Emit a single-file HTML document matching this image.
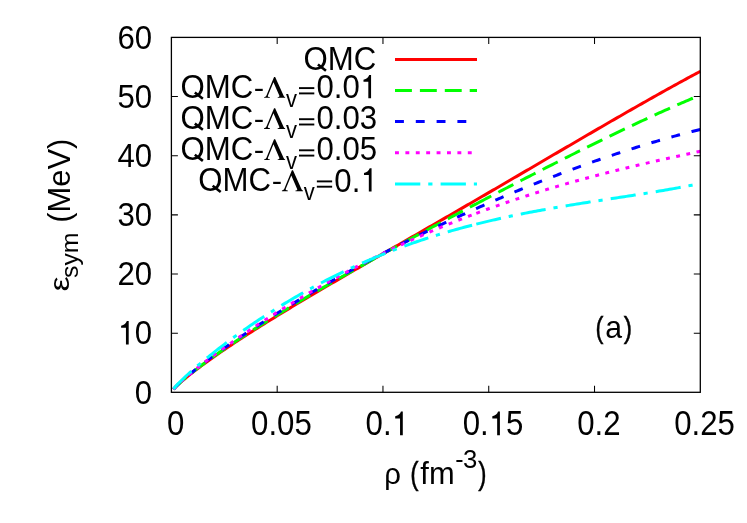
<!DOCTYPE html>
<html><head><meta charset="utf-8"><title>chart</title>
<style>html,body{margin:0;padding:0;background:#fff;}svg{display:block;opacity:0.999;will-change:transform;}</style>
</head><body>
<svg width="747" height="523" viewBox="0 0 747 523">
<rect width="747" height="523" fill="#fff"/>
<g fill="none" stroke-width="3.00" stroke-linejoin="round">
<path d="M173.52 389.22 L175.63 386.98 L177.75 384.93 L179.86 383.00 L181.98 381.14 L184.09 379.34 L186.21 377.58 L188.32 375.86 L190.44 374.17 L192.56 372.52 L194.67 370.88 L196.79 369.27 L198.90 367.68 L201.02 366.10 L203.13 364.54 L205.25 363.00 L207.37 361.47 L209.48 359.96 L211.60 358.46 L213.71 356.97 L215.83 355.49 L217.94 354.02 L220.06 352.56 L222.17 351.11 L224.29 349.67 L226.41 348.24 L228.52 346.82 L230.64 345.41 L232.75 344.00 L234.87 342.60 L236.98 341.21 L239.10 339.82 L241.21 338.44 L243.33 337.07 L245.45 335.71 L247.56 334.35 L249.68 332.99 L251.79 331.64 L253.91 330.30 L256.02 328.96 L258.14 327.62 L260.26 326.30 L262.37 324.97 L264.49 323.65 L266.60 322.33 L268.72 321.02 L270.83 319.72 L272.95 318.41 L275.06 317.11 L277.18 315.82 L279.30 314.52 L281.41 313.23 L283.53 311.95 L285.64 310.66 L287.76 309.39 L289.87 308.11 L291.99 306.83 L294.10 305.56 L296.22 304.29 L298.34 303.03 L300.45 301.77 L302.57 300.50 L304.68 299.25 L306.80 297.99 L308.91 296.74 L311.03 295.48 L313.15 294.23 L315.26 292.99 L317.38 291.74 L319.49 290.49 L321.61 289.25 L323.72 288.01 L325.84 286.77 L327.95 285.53 L330.07 284.30 L332.19 283.06 L334.30 281.83 L336.42 280.60 L338.53 279.36 L340.65 278.13 L342.76 276.90 L344.88 275.68 L346.99 274.45 L349.11 273.22 L351.23 272.00 L353.34 270.77 L355.46 269.55 L357.57 268.33 L359.69 267.10 L361.80 265.88 L363.92 264.66 L366.04 263.44 L368.15 262.22 L370.27 261.00 L372.38 259.78 L374.50 258.57 L376.61 257.35 L378.73 256.13 L380.84 254.91 L382.96 253.69 L385.08 252.48 L387.19 251.26 L389.31 250.04 L391.42 248.83 L393.54 247.61 L395.65 246.39 L397.77 245.18 L399.88 243.96 L402.00 242.74 L404.12 241.53 L406.23 240.31 L408.35 239.09 L410.46 237.88 L412.58 236.66 L414.69 235.44 L416.81 234.23 L418.93 233.01 L421.04 231.79 L423.16 230.57 L425.27 229.35 L427.39 228.14 L429.50 226.92 L431.62 225.70 L433.73 224.48 L435.85 223.26 L437.97 222.04 L440.08 220.82 L442.20 219.60 L444.31 218.38 L446.43 217.15 L448.54 215.93 L450.66 214.71 L452.77 213.49 L454.89 212.26 L457.01 211.04 L459.12 209.81 L461.24 208.59 L463.35 207.36 L465.47 206.14 L467.58 204.91 L469.70 203.69 L471.82 202.46 L473.93 201.23 L476.05 200.00 L478.16 198.78 L480.28 197.55 L482.39 196.32 L484.51 195.09 L486.62 193.86 L488.74 192.63 L490.86 191.40 L492.97 190.17 L495.09 188.93 L497.20 187.70 L499.32 186.47 L501.43 185.24 L503.55 184.00 L505.66 182.77 L507.78 181.54 L509.90 180.30 L512.01 179.07 L514.13 177.83 L516.24 176.60 L518.36 175.36 L520.47 174.12 L522.59 172.89 L524.71 171.65 L526.82 170.41 L528.94 169.18 L531.05 167.94 L533.17 166.70 L535.28 165.47 L537.40 164.23 L539.51 162.99 L541.63 161.75 L543.75 160.52 L545.86 159.28 L547.98 158.04 L550.09 156.80 L552.21 155.57 L554.32 154.33 L556.44 153.09 L558.55 151.85 L560.67 150.62 L562.79 149.38 L564.90 148.14 L567.02 146.91 L569.13 145.67 L571.25 144.43 L573.36 143.20 L575.48 141.96 L577.60 140.73 L579.71 139.49 L581.83 138.26 L583.94 137.03 L586.06 135.80 L588.17 134.56 L590.29 133.33 L592.40 132.10 L594.52 130.87 L596.64 129.64 L598.75 128.41 L600.87 127.18 L602.98 125.96 L605.10 124.73 L607.21 123.51 L609.33 122.28 L611.44 121.06 L613.56 119.84 L615.68 118.62 L617.79 117.40 L619.91 116.18 L622.02 114.96 L624.14 113.75 L626.25 112.53 L628.37 111.32 L630.49 110.11 L632.60 108.90 L634.72 107.69 L636.83 106.49 L638.95 105.28 L641.06 104.08 L643.18 102.88 L645.29 101.68 L647.41 100.48 L649.53 99.28 L651.64 98.09 L653.76 96.90 L655.87 95.71 L657.99 94.52 L660.10 93.34 L662.22 92.16 L664.33 90.98 L666.45 89.80 L668.57 88.62 L670.68 87.45 L672.80 86.28 L674.91 85.11 L677.03 83.95 L679.14 82.79 L681.26 81.63 L683.38 80.48 L685.49 79.32 L687.61 78.17 L689.72 77.03 L691.84 75.88 L693.95 74.74 L696.07 73.61 L698.18 72.48 L700.30 71.35" stroke="#ff0000"/>
<path d="M173.52 389.19 L175.55 387.01 L177.58 385.01 L179.61 383.12 L181.64 381.30 L183.68 379.53 L185.71 377.81 L187.74 376.12 L189.77 374.47 L191.80 372.84 L193.84 371.24 L195.87 369.66 L197.90 368.09 L199.93 366.55 L201.97 365.02 L204.00 363.50 L206.03 362.00 L208.06 360.52 L210.09 359.04 L212.13 357.58 L214.16 356.13 L216.19 354.69 L218.22 353.26 L220.25 351.84 L222.29 350.43 L224.32 349.03 L226.35 347.63 L228.38 346.25 L230.41 344.87 L232.45 343.50 L234.48 342.14 L236.51 340.78 L238.54 339.43 L240.58 338.09 L242.61 336.76 L244.64 335.43 L246.67 334.10 L248.70 332.79 L250.74 331.48 L252.77 330.17 L254.80 328.87 L256.83 327.57 L258.86 326.28 L260.90 325.00 L262.93 323.72 L264.96 322.45 L266.99 321.17 L269.02 319.91 L271.06 318.65 L273.09 317.39 L275.12 316.14 L277.15 314.89 L279.19 313.64 L281.22 312.40 L283.25 311.17 L285.28 309.93 L287.31 308.70 L289.35 307.48 L291.38 306.26 L293.41 305.04 L295.44 303.82 L297.47 302.61 L299.51 301.40 L301.54 300.20 L303.57 298.99 L305.60 297.80 L307.63 296.60 L309.67 295.41 L311.70 294.21 L313.73 293.03 L315.76 291.84 L317.80 290.66 L319.83 289.48 L321.86 288.30 L323.89 287.13 L325.92 285.96 L327.96 284.79 L329.99 283.62 L332.02 282.46 L334.05 281.29 L336.08 280.13 L338.12 278.98 L340.15 277.82 L342.18 276.67 L344.21 275.51 L346.24 274.37 L348.28 273.22 L350.31 272.07 L352.34 270.93 L354.37 269.79 L356.41 268.65 L358.44 267.51 L360.47 266.37 L362.50 265.24 L364.53 264.11 L366.57 262.97 L368.60 261.84 L370.63 260.72 L372.66 259.59 L374.69 258.47 L376.73 257.34 L378.76 256.22 L380.79 255.10 L382.82 253.98 L384.86 252.87 L386.89 251.75 L388.92 250.64 L390.95 249.52 L392.98 248.41 L395.02 247.30 L397.05 246.19 L399.08 245.08 L401.11 243.98 L403.14 242.87 L405.18 241.77 L407.21 240.67 L409.24 239.57 L411.27 238.46 L413.30 237.37 L415.34 236.27 L417.37 235.17 L419.40 234.07 L421.43 232.98 L423.47 231.89 L425.50 230.79 L427.53 229.70 L429.56 228.61 L431.59 227.52 L433.63 226.43 L435.66 225.35 L437.69 224.26 L439.72 223.18 L441.75 222.09 L443.79 221.01 L445.82 219.93 L447.85 218.84 L449.88 217.76 L451.91 216.68 L453.95 215.61 L455.98 214.53 L458.01 213.45 L460.04 212.38 L462.08 211.30 L464.11 210.23 L466.14 209.16 L468.17 208.08 L470.20 207.01 L472.24 205.94 L474.27 204.87 L476.30 203.81 M476.30 203.81 L478.36 202.73 L480.41 201.65 L482.47 200.57 L484.52 199.49 L486.58 198.42 L488.63 197.34 L490.69 196.27 L492.74 195.20 L494.80 194.13 L496.85 193.06 L498.91 191.99 L500.96 190.92 L503.02 189.85 L505.07 188.79 L507.13 187.72 L509.18 186.66 L511.24 185.59 L513.29 184.53 L515.35 183.47 L517.40 182.41 L519.46 181.35 L521.51 180.29 L523.57 179.24 L525.62 178.18 L527.68 177.12 L529.73 176.07 L531.79 175.02 L533.84 173.97 L535.90 172.92 L537.95 171.87 L540.01 170.82 L542.06 169.78 L544.12 168.73 L546.17 167.69 L548.23 166.65 L550.28 165.60 L552.34 164.56 L554.39 163.53 L556.45 162.49 L558.50 161.45 L560.56 160.42 L562.61 159.39 L564.67 158.36 L566.72 157.33 L568.78 156.30 L570.83 155.27 L572.89 154.25 L574.94 153.22 L577.00 152.20 L579.05 151.18 L581.11 150.16 L583.16 149.14 L585.22 148.13 L587.27 147.12 L589.33 146.10 L591.38 145.09 L593.44 144.08 L595.49 143.08 L597.55 142.07 L599.60 141.07 L601.66 140.07 L603.71 139.07 L605.77 138.08 L607.82 137.08 L609.88 136.09 L611.93 135.10 L613.99 134.11 L616.04 133.12 L618.10 132.14 L620.15 131.16 L622.21 130.18 L624.26 129.20 L626.32 128.23 L628.37 127.25 L630.43 126.28 L632.48 125.31 L634.54 124.35 L636.59 123.39 L638.65 122.43 L640.70 121.47 L642.76 120.51 L644.81 119.56 L646.87 118.61 L648.92 117.67 L650.98 116.72 L653.03 115.78 L655.09 114.84 L657.14 113.91 L659.20 112.98 L661.25 112.05 L663.31 111.12 L665.36 110.20 L667.42 109.28 L669.47 108.36 L671.53 107.45 L673.58 106.54 L675.64 105.63 L677.69 104.73 L679.75 103.83 L681.80 102.93 L683.86 102.04 L685.91 101.15 L687.97 100.26 L690.02 99.38 L692.08 98.50 L694.13 97.63 L696.19 96.76 L698.24 95.89 L700.30 95.03" stroke="#00ff00" stroke-dasharray="16.9 8.0"/>
<path d="M173.52 389.16 L175.55 386.94 L177.58 384.90 L179.61 382.97 L181.64 381.11 L183.68 379.31 L185.71 377.55 L187.74 375.83 L189.77 374.13 L191.80 372.47 L193.84 370.83 L195.87 369.21 L197.90 367.60 L199.93 366.02 L201.97 364.46 L204.00 362.90 L206.03 361.37 L208.06 359.84 L210.09 358.33 L212.13 356.83 L214.16 355.35 L216.19 353.87 L218.22 352.40 L220.25 350.95 L222.29 349.50 L224.32 348.06 L226.35 346.64 L228.38 345.22 L230.41 343.81 L232.45 342.40 L234.48 341.01 L236.51 339.62 L238.54 338.24 L240.58 336.87 L242.61 335.50 L244.64 334.14 L246.67 332.79 L248.70 331.45 L250.74 330.11 L252.77 328.78 L254.80 327.45 L256.83 326.13 L258.86 324.82 L260.90 323.51 L262.93 322.21 L264.96 320.91 L266.99 319.62 L269.02 318.34 L271.06 317.06 L273.09 315.78 L275.12 314.51 L277.15 313.25 L279.19 311.99 L281.22 310.74 L283.25 309.49 L285.28 308.25 L287.31 307.01 L289.35 305.77 L291.38 304.55 L293.41 303.32 L295.44 302.10 L297.47 300.89 L299.51 299.68 L301.54 298.47 L303.57 297.27 L305.60 296.07 L307.63 294.88 L309.67 293.69 L311.70 292.50 L313.73 291.32 L315.76 290.15 L317.80 288.98 L319.83 287.81 L321.86 286.65 L323.89 285.49 L325.92 284.33 L327.96 283.18 L329.99 282.03 L332.02 280.89 L334.05 279.75 L336.08 278.61 L338.12 277.48 L340.15 276.35 L342.18 275.23 L344.21 274.11 L346.24 272.99 L348.28 271.88 L350.31 270.77 L352.34 269.66 L354.37 268.56 L356.41 267.46 L358.44 266.37 L360.47 265.28 L362.50 264.19 L364.53 263.11 L366.57 262.02 L368.60 260.95 L370.63 259.87 L372.66 258.80 L374.69 257.74 L376.73 256.67 L378.76 255.61 L380.79 254.56 L382.82 253.50 L384.86 252.45 L386.89 251.41 L388.92 250.36 L390.95 249.32 L392.98 248.29 L395.02 247.25 L397.05 246.22 L399.08 245.20 L401.11 244.17 L403.14 243.15 L405.18 242.14 L407.21 241.12 L409.24 240.11 L411.27 239.11 L413.30 238.10 L415.34 237.10 L417.37 236.10 L419.40 235.11 L421.43 234.12 L423.47 233.13 L425.50 232.14 L427.53 231.16 L429.56 230.18 L431.59 229.21 L433.63 228.24 L435.66 227.27 L437.69 226.30 L439.72 225.34 L441.75 224.38 L443.79 223.42 L445.82 222.47 L447.85 221.52 L449.88 220.57 L451.91 219.63 L453.95 218.68 L455.98 217.75 L458.01 216.81 L460.04 215.88 L462.08 214.95 L464.11 214.03 L466.14 213.10 L468.17 212.18 L470.20 211.27 L472.24 210.35 L474.27 209.44 L476.30 208.54 M476.30 208.54 L478.36 207.62 L480.41 206.71 L482.47 205.80 L484.52 204.90 L486.58 204.00 L488.63 203.10 L490.69 202.20 L492.74 201.31 L494.80 200.42 L496.85 199.54 L498.91 198.66 L500.96 197.78 L503.02 196.90 L505.07 196.03 L507.13 195.16 L509.18 194.29 L511.24 193.43 L513.29 192.57 L515.35 191.71 L517.40 190.86 L519.46 190.01 L521.51 189.16 L523.57 188.32 L525.62 187.48 L527.68 186.64 L529.73 185.81 L531.79 184.98 L533.84 184.15 L535.90 183.33 L537.95 182.51 L540.01 181.69 L542.06 180.88 L544.12 180.07 L546.17 179.26 L548.23 178.46 L550.28 177.66 L552.34 176.86 L554.39 176.07 L556.45 175.28 L558.50 174.49 L560.56 173.71 L562.61 172.93 L564.67 172.16 L566.72 171.38 L568.78 170.61 L570.83 169.85 L572.89 169.09 L574.94 168.33 L577.00 167.57 L579.05 166.82 L581.11 166.08 L583.16 165.33 L585.22 164.59 L587.27 163.85 L589.33 163.12 L591.38 162.39 L593.44 161.67 L595.49 160.94 L597.55 160.23 L599.60 159.51 L601.66 158.80 L603.71 158.09 L605.77 157.39 L607.82 156.69 L609.88 155.99 L611.93 155.30 L613.99 154.61 L616.04 153.93 L618.10 153.25 L620.15 152.57 L622.21 151.90 L624.26 151.23 L626.32 150.57 L628.37 149.91 L630.43 149.25 L632.48 148.60 L634.54 147.95 L636.59 147.30 L638.65 146.66 L640.70 146.03 L642.76 145.40 L644.81 144.77 L646.87 144.14 L648.92 143.52 L650.98 142.91 L653.03 142.30 L655.09 141.69 L657.14 141.09 L659.20 140.49 L661.25 139.90 L663.31 139.31 L665.36 138.72 L667.42 138.14 L669.47 137.56 L671.53 136.99 L673.58 136.42 L675.64 135.86 L677.69 135.30 L679.75 134.75 L681.80 134.20 L683.86 133.66 L685.91 133.12 L687.97 132.58 L690.02 132.05 L692.08 131.52 L694.13 131.00 L696.19 130.49 L698.24 129.97 L700.30 129.47" stroke="#0000ff" stroke-dasharray="8.9 11.9"/>
<path d="M173.52 389.16 L175.55 386.93 L177.58 384.89 L179.61 382.96 L181.64 381.09 L183.68 379.28 L185.71 377.52 L187.74 375.78 L189.77 374.08 L191.80 372.40 L193.84 370.74 L195.87 369.11 L197.90 367.49 L199.93 365.89 L201.97 364.31 L204.00 362.74 L206.03 361.18 L208.06 359.64 L210.09 358.11 L212.13 356.59 L214.16 355.08 L216.19 353.58 L218.22 352.09 L220.25 350.61 L222.29 349.14 L224.32 347.68 L226.35 346.23 L228.38 344.79 L230.41 343.35 L232.45 341.93 L234.48 340.51 L236.51 339.10 L238.54 337.69 L240.58 336.30 L242.61 334.91 L244.64 333.52 L246.67 332.15 L248.70 330.78 L250.74 329.42 L252.77 328.06 L254.80 326.72 L256.83 325.37 L258.86 324.04 L260.90 322.71 L262.93 321.39 L264.96 320.07 L266.99 318.76 L269.02 317.46 L271.06 316.16 L273.09 314.87 L275.12 313.59 L277.15 312.31 L279.19 311.03 L281.22 309.77 L283.25 308.50 L285.28 307.25 L287.31 306.00 L289.35 304.75 L291.38 303.52 L293.41 302.28 L295.44 301.06 L297.47 299.84 L299.51 298.62 L301.54 297.41 L303.57 296.21 L305.60 295.01 L307.63 293.82 L309.67 292.63 L311.70 291.45 L313.73 290.27 L315.76 289.10 L317.80 287.94 L319.83 286.78 L321.86 285.62 L323.89 284.48 L325.92 283.33 L327.96 282.20 L329.99 281.06 L332.02 279.94 L334.05 278.82 L336.08 277.70 L338.12 276.59 L340.15 275.49 L342.18 274.39 L344.21 273.29 L346.24 272.20 L348.28 271.12 L350.31 270.04 L352.34 268.97 L354.37 267.90 L356.41 266.84 L358.44 265.79 L360.47 264.74 L362.50 263.69 L364.53 262.65 L366.57 261.61 L368.60 260.58 L370.63 259.56 L372.66 258.54 L374.69 257.53 L376.73 256.52 L378.76 255.51 L380.79 254.52 L382.82 253.52 L384.86 252.53 L386.89 251.55 L388.92 250.57 L390.95 249.60 L392.98 248.64 L395.02 247.67 L397.05 246.72 L399.08 245.77 L401.11 244.82 L403.14 243.88 L405.18 242.94 L407.21 242.01 L409.24 241.08 L411.27 240.16 L413.30 239.25 L415.34 238.34 L417.37 237.43 L419.40 236.53 L421.43 235.64 L423.47 234.74 L425.50 233.86 L427.53 232.98 L429.56 232.10 L431.59 231.23 L433.63 230.37 L435.66 229.51 L437.69 228.65 L439.72 227.80 L441.75 226.95 L443.79 226.11 L445.82 225.28 L447.85 224.45 L449.88 223.62 L451.91 222.80 L453.95 221.98 L455.98 221.17 L458.01 220.36 L460.04 219.56 L462.08 218.76 L464.11 217.97 L466.14 217.18 L468.17 216.40 L470.20 215.62 L472.24 214.84 L474.27 214.08 L476.30 213.31 M476.30 213.31 L478.36 212.54 L480.41 211.78 L482.47 211.02 L484.52 210.26 L486.58 209.51 L488.63 208.77 L490.69 208.03 L492.74 207.29 L494.80 206.56 L496.85 205.83 L498.91 205.11 L500.96 204.39 L503.02 203.68 L505.07 202.97 L507.13 202.26 L509.18 201.56 L511.24 200.87 L513.29 200.17 L515.35 199.49 L517.40 198.80 L519.46 198.12 L521.51 197.45 L523.57 196.78 L525.62 196.11 L527.68 195.45 L529.73 194.79 L531.79 194.14 L533.84 193.49 L535.90 192.84 L537.95 192.20 L540.01 191.57 L542.06 190.93 L544.12 190.30 L546.17 189.68 L548.23 189.05 L550.28 188.44 L552.34 187.82 L554.39 187.21 L556.45 186.60 L558.50 186.00 L560.56 185.40 L562.61 184.81 L564.67 184.22 L566.72 183.63 L568.78 183.04 L570.83 182.46 L572.89 181.88 L574.94 181.31 L577.00 180.74 L579.05 180.17 L581.11 179.61 L583.16 179.05 L585.22 178.49 L587.27 177.93 L589.33 177.38 L591.38 176.84 L593.44 176.29 L595.49 175.75 L597.55 175.21 L599.60 174.68 L601.66 174.14 L603.71 173.61 L605.77 173.09 L607.82 172.56 L609.88 172.04 L611.93 171.52 L613.99 171.01 L616.04 170.50 L618.10 169.99 L620.15 169.48 L622.21 168.98 L624.26 168.47 L626.32 167.97 L628.37 167.48 L630.43 166.98 L632.48 166.49 L634.54 166.00 L636.59 165.51 L638.65 165.03 L640.70 164.54 L642.76 164.06 L644.81 163.58 L646.87 163.11 L648.92 162.63 L650.98 162.16 L653.03 161.69 L655.09 161.22 L657.14 160.75 L659.20 160.28 L661.25 159.82 L663.31 159.36 L665.36 158.90 L667.42 158.44 L669.47 157.98 L671.53 157.53 L673.58 157.07 L675.64 156.62 L677.69 156.17 L679.75 155.72 L681.80 155.27 L683.86 154.82 L685.91 154.37 L687.97 153.92 L690.02 153.48 L692.08 153.04 L694.13 152.59 L696.19 152.15 L698.24 151.71 L700.30 151.27" stroke="#ff00ff" stroke-dasharray="3.9 6.5"/>
<path d="M173.52 388.97 L175.55 386.58 L177.58 384.38 L179.61 382.28 L181.64 380.25 L183.68 378.29 L185.71 376.37 L187.74 374.48 L189.77 372.64 L191.80 370.82 L193.84 369.02 L195.87 367.25 L197.90 365.51 L199.93 363.78 L201.97 362.08 L204.00 360.39 L206.03 358.72 L208.06 357.06 L210.09 355.42 L212.13 353.80 L214.16 352.19 L216.19 350.59 L218.22 349.01 L220.25 347.44 L222.29 345.89 L224.32 344.35 L226.35 342.82 L228.38 341.30 L230.41 339.79 L232.45 338.30 L234.48 336.82 L236.51 335.34 L238.54 333.88 L240.58 332.43 L242.61 331.00 L244.64 329.57 L246.67 328.15 L248.70 326.75 L250.74 325.35 L252.77 323.96 L254.80 322.59 L256.83 321.22 L258.86 319.87 L260.90 318.52 L262.93 317.19 L264.96 315.86 L266.99 314.55 L269.02 313.24 L271.06 311.94 L273.09 310.66 L275.12 309.38 L277.15 308.11 L279.19 306.85 L281.22 305.61 L283.25 304.37 L285.28 303.14 L287.31 301.92 L289.35 300.70 L291.38 299.50 L293.41 298.31 L295.44 297.12 L297.47 295.95 L299.51 294.78 L301.54 293.63 L303.57 292.48 L305.60 291.34 L307.63 290.21 L309.67 289.09 L311.70 287.98 L313.73 286.87 L315.76 285.78 L317.80 284.69 L319.83 283.61 L321.86 282.54 L323.89 281.48 L325.92 280.43 L327.96 279.39 L329.99 278.36 L332.02 277.33 L334.05 276.31 L336.08 275.30 L338.12 274.30 L340.15 273.31 L342.18 272.33 L344.21 271.35 L346.24 270.38 L348.28 269.43 L350.31 268.48 L352.34 267.53 L354.37 266.60 L356.41 265.67 L358.44 264.76 L360.47 263.85 L362.50 262.94 L364.53 262.05 L366.57 261.17 L368.60 260.29 L370.63 259.42 L372.66 258.56 L374.69 257.70 L376.73 256.86 L378.76 256.02 L380.79 255.19 L382.82 254.36 L384.86 253.55 L386.89 252.74 L388.92 251.94 L390.95 251.15 L392.98 250.36 L395.02 249.59 L397.05 248.82 L399.08 248.05 L401.11 247.30 L403.14 246.55 L405.18 245.81 L407.21 245.08 L409.24 244.35 L411.27 243.63 L413.30 242.92 L415.34 242.21 L417.37 241.52 L419.40 240.83 L421.43 240.14 L423.47 239.46 L425.50 238.79 L427.53 238.13 L429.56 237.47 L431.59 236.82 L433.63 236.18 L435.66 235.54 L437.69 234.91 L439.72 234.29 L441.75 233.67 L443.79 233.06 L445.82 232.46 L447.85 231.86 L449.88 231.27 L451.91 230.68 L453.95 230.10 L455.98 229.53 L458.01 228.96 L460.04 228.40 L462.08 227.85 L464.11 227.30 L466.14 226.75 L468.17 226.22 L470.20 225.68 L472.24 225.16 L474.27 224.64 L476.30 224.12 M476.30 224.12 L478.36 223.61 L480.41 223.10 L482.47 222.59 L484.52 222.09 L486.58 221.60 L488.63 221.11 L490.69 220.63 L492.74 220.15 L494.80 219.67 L496.85 219.21 L498.91 218.74 L500.96 218.28 L503.02 217.83 L505.07 217.38 L507.13 216.94 L509.18 216.50 L511.24 216.06 L513.29 215.63 L515.35 215.21 L517.40 214.78 L519.46 214.37 L521.51 213.95 L523.57 213.54 L525.62 213.14 L527.68 212.73 L529.73 212.34 L531.79 211.94 L533.84 211.55 L535.90 211.17 L537.95 210.78 L540.01 210.40 L542.06 210.03 L544.12 209.65 L546.17 209.28 L548.23 208.91 L550.28 208.55 L552.34 208.19 L554.39 207.83 L556.45 207.47 L558.50 207.12 L560.56 206.77 L562.61 206.42 L564.67 206.08 L566.72 205.73 L568.78 205.39 L570.83 205.06 L572.89 204.72 L574.94 204.38 L577.00 204.05 L579.05 203.72 L581.11 203.39 L583.16 203.06 L585.22 202.73 L587.27 202.41 L589.33 202.09 L591.38 201.76 L593.44 201.44 L595.49 201.12 L597.55 200.80 L599.60 200.48 L601.66 200.16 L603.71 199.85 L605.77 199.53 L607.82 199.21 L609.88 198.90 L611.93 198.58 L613.99 198.26 L616.04 197.95 L618.10 197.63 L620.15 197.31 L622.21 197.00 L624.26 196.68 L626.32 196.36 L628.37 196.04 L630.43 195.72 L632.48 195.40 L634.54 195.08 L636.59 194.76 L638.65 194.43 L640.70 194.11 L642.76 193.78 L644.81 193.45 L646.87 193.12 L648.92 192.79 L650.98 192.45 L653.03 192.12 L655.09 191.78 L657.14 191.44 L659.20 191.10 L661.25 190.75 L663.31 190.40 L665.36 190.05 L667.42 189.70 L669.47 189.34 L671.53 188.98 L673.58 188.62 L675.64 188.25 L677.69 187.88 L679.75 187.51 L681.80 187.13 L683.86 186.75 L685.91 186.36 L687.97 185.97 L690.02 185.58 L692.08 185.18 L694.13 184.78 L696.19 184.37 L698.24 183.96 L700.30 183.54" stroke="#00ffff" stroke-dasharray="25.3 7.95 4.2 8.15"/>
<path d="M395.0 59.50 H477" stroke="#ff0000"/>
<path d="M395.0 90.50 H477" stroke="#00ff00" stroke-dasharray="16.9 8.0"/>
<path d="M395.0 121.55 H477" stroke="#0000ff" stroke-dasharray="8.9 11.9"/>
<path d="M395.0 152.75 H477" stroke="#ff00ff" stroke-dasharray="3.9 6.5"/>
<path d="M395.0 184.00 H477" stroke="#00ffff" stroke-dasharray="25.3 7.95 4.2 8.15"/>
</g>
<g fill="none" stroke="#000" stroke-width="1.3">
<rect x="171.40" y="37.40" width="528.90" height="354.90"/>
<path d="M277.18 392.30 v-6.5 M277.18 37.40 v6.5 M382.96 392.30 v-6.5 M382.96 37.40 v6.5 M488.74 392.30 v-6.5 M488.74 37.40 v6.5 M594.52 392.30 v-6.5 M594.52 37.40 v6.5 M171.40 333.15 h6.5 M700.30 333.15 h-6.5 M171.40 274.00 h6.5 M700.30 274.00 h-6.5 M171.40 214.85 h6.5 M700.30 214.85 h-6.5 M171.40 155.70 h6.5 M700.30 155.70 h-6.5 M171.40 96.55 h6.5 M700.30 96.55 h-6.5 " stroke-width="1.05"/>
</g>
<g font-family="'Liberation Sans', sans-serif" font-size="31.20" fill="#000">
<text transform="translate(134.85,403.55) scale(1.000,1.090)">0</text>
<path d="M125.95 344.40 L128.70 344.40 L128.70 321.00 L126.86 321.00 Q125.76 324.51 121.12 325.76 L121.12 327.84 L125.95 327.84 Z"/>
<text transform="translate(117.50,344.40) scale(1.000,1.090)">&#160;&#160;0</text>
<text transform="translate(117.50,285.25) scale(1.000,1.090)">20</text>
<text transform="translate(117.50,226.10) scale(1.000,1.090)">30</text>
<text transform="translate(117.50,166.95) scale(1.000,1.090)">40</text>
<text transform="translate(117.50,107.80) scale(1.000,1.090)">50</text>
<text transform="translate(117.50,48.65) scale(1.000,1.090)">60</text>
<text transform="translate(167.02,435.20) scale(1.000,1.105)">0</text>
<text transform="translate(251.12,435.20) scale(1.000,1.105)">0.05</text>
<path d="M400.05 435.20 L402.79 435.20 L402.79 411.48 L400.95 411.48 Q399.86 415.03 395.21 416.31 L395.21 418.41 L400.05 418.41 Z"/>
<text transform="translate(365.57,435.20) scale(1.000,1.105)">0.&#160;&#160;</text>
<path d="M497.15 435.20 L499.90 435.20 L499.90 411.48 L498.06 411.48 Q496.97 415.03 492.32 416.31 L492.32 418.41 L497.15 418.41 Z"/>
<text transform="translate(462.68,435.20) scale(1.000,1.105)">0.&#160;&#160;5</text>
<text transform="translate(577.13,435.20) scale(1.000,1.105)">0.2</text>
<text transform="translate(674.24,435.20) scale(1.000,1.105)">0.25</text>
<text transform="translate(303.60,69.80) scale(1.000,1.085)">OMC</text>
<path d="M317.93 64.50 L325.98 70.70" stroke="#000" stroke-width="2.6" fill="none"/>
<text transform="translate(180.48,97.80) scale(1.000,1.085)">OMC</text>
<text transform="translate(253.87,96.80) scale(1.000,0.900)">-</text>
<path d="M194.81 92.50 L202.86 98.70" stroke="#000" stroke-width="2.6" fill="none"/>
<path d="M274.05 77.05 L275.15 77.05 L283.65 95.85 Q284.25 97.05 285.15 97.20 L285.15 97.85 L277.65 97.85 L277.65 97.20 Q279.85 97.05 279.40 95.85 L273.45 82.15 L267.95 95.45 Q267.35 97.05 269.95 97.20 L269.95 97.85 L264.05 97.85 L264.05 97.20 Q265.65 97.05 266.45 95.45 Z"/>
<text transform="translate(285.90,106.60) scale(1.000,1.080)" font-size="22.00">v</text>
<rect x="299.00" y="87.15" width="15.3" height="1.9"/>
<rect x="299.00" y="92.45" width="15.3" height="1.9"/>
<path d="M368.33 98.25 L371.07 98.25 L371.07 74.96 L369.23 74.96 Q368.14 78.45 363.49 79.70 L363.49 81.76 L368.33 81.76 Z"/>
<text transform="translate(316.50,98.25) scale(1.000,1.085)">0.0&#160;&#160;</text>
<text transform="translate(180.48,128.90) scale(1.000,1.085)">OMC</text>
<text transform="translate(253.87,127.90) scale(1.000,0.900)">-</text>
<path d="M194.81 123.60 L202.86 129.80" stroke="#000" stroke-width="2.6" fill="none"/>
<path d="M274.05 108.15 L275.15 108.15 L283.65 126.95 Q284.25 128.15 285.15 128.30 L285.15 128.95 L277.65 128.95 L277.65 128.30 Q279.85 128.15 279.40 126.95 L273.45 113.25 L267.95 126.55 Q267.35 128.15 269.95 128.30 L269.95 128.95 L264.05 128.95 L264.05 128.30 Q265.65 128.15 266.45 126.55 Z"/>
<text transform="translate(285.90,137.70) scale(1.000,1.080)" font-size="22.00">v</text>
<rect x="299.00" y="118.25" width="15.3" height="1.9"/>
<rect x="299.00" y="123.55" width="15.3" height="1.9"/>
<text transform="translate(316.50,129.35) scale(1.000,1.085)">0.03</text>
<text transform="translate(180.48,160.00) scale(1.000,1.085)">OMC</text>
<text transform="translate(253.87,159.00) scale(1.000,0.900)">-</text>
<path d="M194.81 154.70 L202.86 160.90" stroke="#000" stroke-width="2.6" fill="none"/>
<path d="M274.05 139.25 L275.15 139.25 L283.65 158.05 Q284.25 159.25 285.15 159.40 L285.15 160.05 L277.65 160.05 L277.65 159.40 Q279.85 159.25 279.40 158.05 L273.45 144.35 L267.95 157.65 Q267.35 159.25 269.95 159.40 L269.95 160.05 L264.05 160.05 L264.05 159.40 Q265.65 159.25 266.45 157.65 Z"/>
<text transform="translate(285.90,168.80) scale(1.000,1.080)" font-size="22.00">v</text>
<rect x="299.00" y="149.35" width="15.3" height="1.9"/>
<rect x="299.00" y="154.65" width="15.3" height="1.9"/>
<text transform="translate(316.50,160.45) scale(1.000,1.085)">0.05</text>
<text transform="translate(198.33,191.10) scale(1.000,1.085)">OMC</text>
<text transform="translate(271.72,190.10) scale(1.000,0.900)">-</text>
<path d="M212.66 185.80 L220.71 192.00" stroke="#000" stroke-width="2.6" fill="none"/>
<path d="M291.90 170.35 L293.00 170.35 L301.50 189.15 Q302.10 190.35 303.00 190.50 L303.00 191.15 L295.50 191.15 L295.50 190.50 Q297.70 190.35 297.25 189.15 L291.30 175.45 L285.80 188.75 Q285.20 190.35 287.80 190.50 L287.80 191.15 L281.90 191.15 L281.90 190.50 Q283.50 190.35 284.30 188.75 Z"/>
<text transform="translate(303.75,199.90) scale(1.000,1.080)" font-size="22.00">v</text>
<rect x="316.85" y="180.45" width="15.3" height="1.9"/>
<rect x="316.85" y="185.75" width="15.3" height="1.9"/>
<path d="M368.83 191.55 L371.57 191.55 L371.57 168.26 L369.73 168.26 Q368.64 171.75 363.99 173.00 L363.99 175.06 L368.83 175.06 Z"/>
<text transform="translate(334.35,191.55) scale(1.000,1.085)">0.&#160;&#160;</text>
<text transform="translate(595.43,338.40) scale(0.760,0.955)" stroke="#000" stroke-width="0.50">(</text>
<text transform="translate(605.21,338.40) scale(0.970,1.020)">a</text>
<text transform="translate(623.65,338.40) scale(0.800,0.955)" stroke="#000" stroke-width="0.50">)</text>
<text transform="translate(384.21,484.30) scale(1.000,0.975)" font-size="29.30">&#961;</text>
<text transform="translate(410.25,483.70) scale(0.800,0.985)" stroke="#000" stroke-width="0.40">(</text>
<text transform="translate(420.36,483.75) scale(0.990,1.025)">fm</text>
<text transform="translate(455.29,468.20)" font-size="25.00">-</text>
<text transform="translate(462.95,468.20) scale(1.030,1.000)" font-size="25.00">3</text>
<text transform="translate(478.25,483.70) scale(0.800,0.985)" stroke="#000" stroke-width="0.40">)</text>
<text transform="translate(68.90,291.56) rotate(-90) scale(1.100,0.870)" font-size="30.80">&#949;</text>
<text transform="translate(78.20,277.97) rotate(-90) scale(1.035,1.000)" font-size="24.00">sym</text>
<text transform="translate(69.80,222.73) rotate(-90) scale(0.990,1.030)">(MeV)</text>
</g>
</svg>
</body></html>
